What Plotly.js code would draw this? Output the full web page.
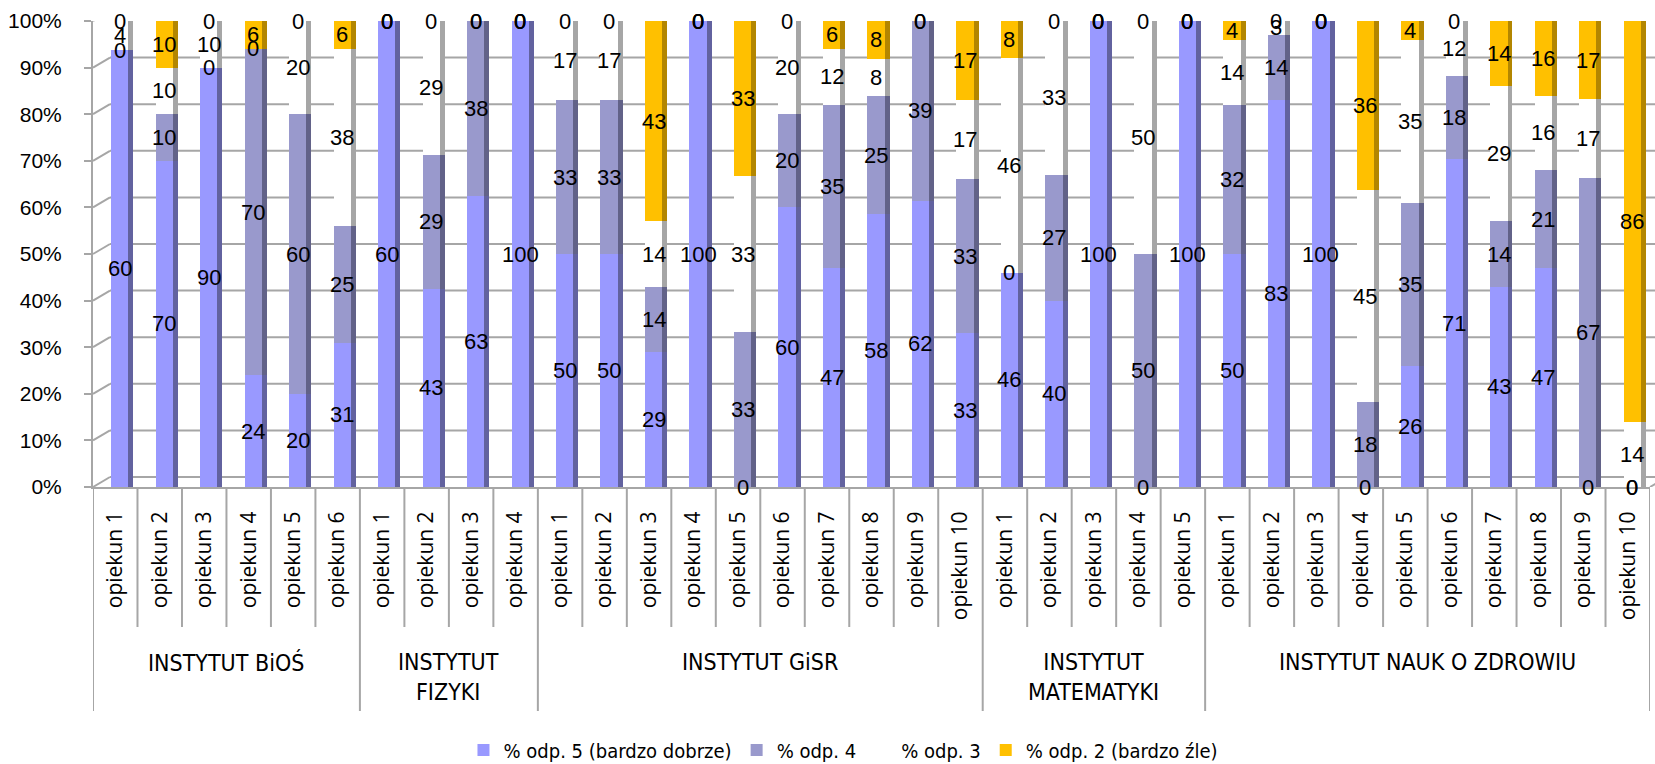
<!DOCTYPE html>
<html><head><meta charset="utf-8">
<script src="https://cdn.plot.ly/plotly-3.0.1.min.js"></script>
<style>html,body{margin:0;padding:0;background:#fff}#chart{width:1655px;height:764px}</style>
</head><body><div id="chart"></div><script>
// ---- data ----
const groupNames = ['INSTYTUT BiOŚ', 'INSTYTUT<br>FIZYKI', 'INSTYTUT GiSR', 'INSTYTUT<br>MATEMATYKI', 'INSTYTUT NAUK O ZDROWIU'];
const itemsBiOS = ['opiekun 1','opiekun 2','opiekun 3','opiekun 4','opiekun 5','opiekun 6'];
const itemsFizyki = ['opiekun 1','opiekun 2','opiekun 3','opiekun 4'];
const itemsGiSR = ['opiekun 1','opiekun 2','opiekun 3','opiekun 4','opiekun 5','opiekun 6','opiekun 7','opiekun 8','opiekun 9','opiekun 10'];
const itemsMatematyki = ['opiekun 1','opiekun 2','opiekun 3','opiekun 4','opiekun 5'];
const itemsZdrowie = ['opiekun 1','opiekun 2','opiekun 3','opiekun 4','opiekun 5','opiekun 6','opiekun 7','opiekun 8','opiekun 9','opiekun 10'];
const groupItems = [itemsBiOS, itemsFizyki, itemsGiSR, itemsMatematyki, itemsZdrowie];

const seriesNames = ['% odp. 5 (bardzo dobrze)', '% odp. 4', '% odp. 3', '% odp. 2 (bardzo źle)'];
const odp5 = [60,70,90,24,20,31, 60,43,63,100, 50,50,29,100,0,60,47,58,62,33, 46,40,100,0,100, 50,83,100,0,26,71,43,47,0,0];
const odp4 = [0,10,0,70,60,25, 0,29,38,0, 33,33,14,0,33,20,35,25,39,33, 0,27,0,50,0, 32,14,0,18,35,18,14,21,67,0];
const odp3 = [4,10,10,0,20,38, 0,29,0,0, 17,17,14,0,33,20,12,8,0,17, 46,33,0,50,0, 14,3,0,45,35,12,29,16,17,14];
const odp2 = [0,10,0,6,0,6, 0,0,0,0, 0,0,43,0,33,0,6,8,0,17, 8,0,0,0,0, 4,0,0,36,4,0,14,16,17,86];
const yTickVals = [0,10,20,30,40,50,60,70,80,90,100];
const yTickText = ['0%','10%','20%','30%','40%','50%','60%','70%','80%','90%','100%'];

// ---- styles ----
const frontColors = ['#9999ff', '#9999cc', '#ffffff', '#ffc000'];
const sideColors  = ['#62629f', '#626288', '#a6a6a6', '#b38600'];
const gray = '#a6a6a6';
const PLOT_W = 1557, DX = 17, DY = 10;
const FONT = 'Liberation Sans, Arial, sans-serif';
const CFONT = 'DejaVu Sans Condensed, Liberation Sans, Arial, sans-serif';

// ---- build ----
const keys = [], tickText = [], groupBounds = [0];
groupItems.forEach((items, g) => {
  items.forEach(it => { keys.push(g + '|' + it); tickText.push(it); });
  groupBounds.push(groupBounds[groupBounds.length - 1] + items.length);
});
const series = [odp5, odp4, odp3, odp2];
const totals = keys.map((_, i) => series.reduce((s, a) => s + a[i], 0));
const pct = series.map(a => a.map((v, i) => v / totals[i] * 100));
const bases = series.map((a, k) => a.map((v, i) => {
  let b = 0; for (let j = 0; j < k; j++) b += pct[j][i]; return b;
}));

const traces = [];
series.forEach((a, k) => {
  traces.push({
    type: 'bar', name: seriesNames[k], x: keys, y: pct[k], base: bases[k],
    offset: -0.092, width: 0.389,
    marker: { color: frontColors[k], line: { width: 0 } },
    hoverinfo: 'skip', textposition: 'none'
  });
});
series.forEach((a, k) => {
  traces.push({
    type: 'bar', name: seriesNames[k] + ' side', x: keys, y: pct[k], base: bases[k],
    offset: 0.297, width: 0.112, showlegend: false,
    marker: { color: sideColors[k], line: { width: 0 } },
    hoverinfo: 'skip', textposition: 'none'
  });
});

const annotations = [];
series.forEach((a, k) => {
  a.forEach((v, i) => {
    annotations.push({
      x: keys[i], y: bases[k][i] + pct[k][i] / 2, xref: 'x', yref: 'y',
      text: String(v), showarrow: false, xshift: 4.5,
      font: { family: FONT, size: 22, color: '#000' }
    });
  });
});
groupNames.forEach((name, g) => {
  const c = (groupBounds[g] + groupBounds[g + 1] - 1) / 2;
  annotations.push({
    x: c, xref: 'x', y: 0, yref: 'paper', yanchor: 'top', yshift: -160,
    text: name, showarrow: false,
    font: { family: CFONT, size: 23, color: '#000' }
  });
});

const shapes = [];
for (let b = 0; b <= keys.length; b++) {
  const isGroup = groupBounds.indexOf(b) >= 0;
  shapes.push({
    type: 'line', xref: 'x', x0: b - 0.5, x1: b - 0.5,
    yref: 'paper', ysizemode: 'pixel', yanchor: 0, y0: 0, y1: isGroup ? -224 : -140,
    line: { color: gray, width: 2 }
  });
}
yTickVals.forEach(v => {
  shapes.push({
    type: 'line', layer: 'below', xref: 'paper', xsizemode: 'pixel', xanchor: 0, x0: DX, x1: DX + PLOT_W,
    yref: 'y', ysizemode: 'pixel', yanchor: v, y0: DY, y1: DY,
    line: { color: gray, width: 2 }
  });
  shapes.push({
    type: 'line', layer: 'below', xref: 'paper', xsizemode: 'pixel', xanchor: 0, x0: 0, x1: DX,
    yref: 'y', ysizemode: 'pixel', yanchor: v, y0: 0, y1: DY,
    line: { color: gray, width: 2 }
  });
});
shapes.push({
  type: 'line', layer: 'below', xref: 'paper', xsizemode: 'pixel', xanchor: 1, x0: 0, x1: DX,
  yref: 'y', ysizemode: 'pixel', yanchor: 0, y0: 0, y1: DY,
  line: { color: gray, width: 2 }
});

const layout = {
  width: 1655, height: 764,
  margin: { l: 93, r: 5, t: 21, b: 277 },
  paper_bgcolor: '#fff', plot_bgcolor: 'rgba(0,0,0,0)',
  font: { family: FONT, color: '#000' },
  barmode: 'overlay', bargap: 0,
  showlegend: true,
  legend: {
    orientation: 'h', x: 0.482, xanchor: 'center', xref: 'paper',
    y: 1 - 750 / 764, yanchor: 'middle', yref: 'container',
    font: { family: CFONT, size: 20, color: '#000' },
    itemwidth: 30, traceorder: 'normal', bgcolor: 'rgba(0,0,0,0)'
  },
  xaxis: {
    type: 'category', range: [-0.5, keys.length - 0.5],
    tickvals: keys, ticktext: tickText, tickangle: -90,
    tickfont: { family: 'Open Sans, sans-serif', size: 21, color: '#000' },
    ticks: '', ticklabelstandoff: 14,
    showline: true, linecolor: gray, linewidth: 2,
    showgrid: false, zeroline: false, fixedrange: true
  },
  yaxis: {
    range: [0, 100], tickmode: 'array', tickvals: yTickVals, ticktext: yTickText,
    tickfont: { family: FONT, size: 21, color: '#000' },
    ticks: 'outside', ticklen: 7, tickwidth: 2, tickcolor: gray,
    ticklabelstandoff: 18,
    showline: true, linecolor: gray, linewidth: 2,
    showgrid: false, zeroline: false, fixedrange: true
  },
  annotations: annotations,
  shapes: shapes
};

Plotly.newPlot('chart', traces, layout, { displayModeBar: false, staticPlot: true });
</script></body></html>
